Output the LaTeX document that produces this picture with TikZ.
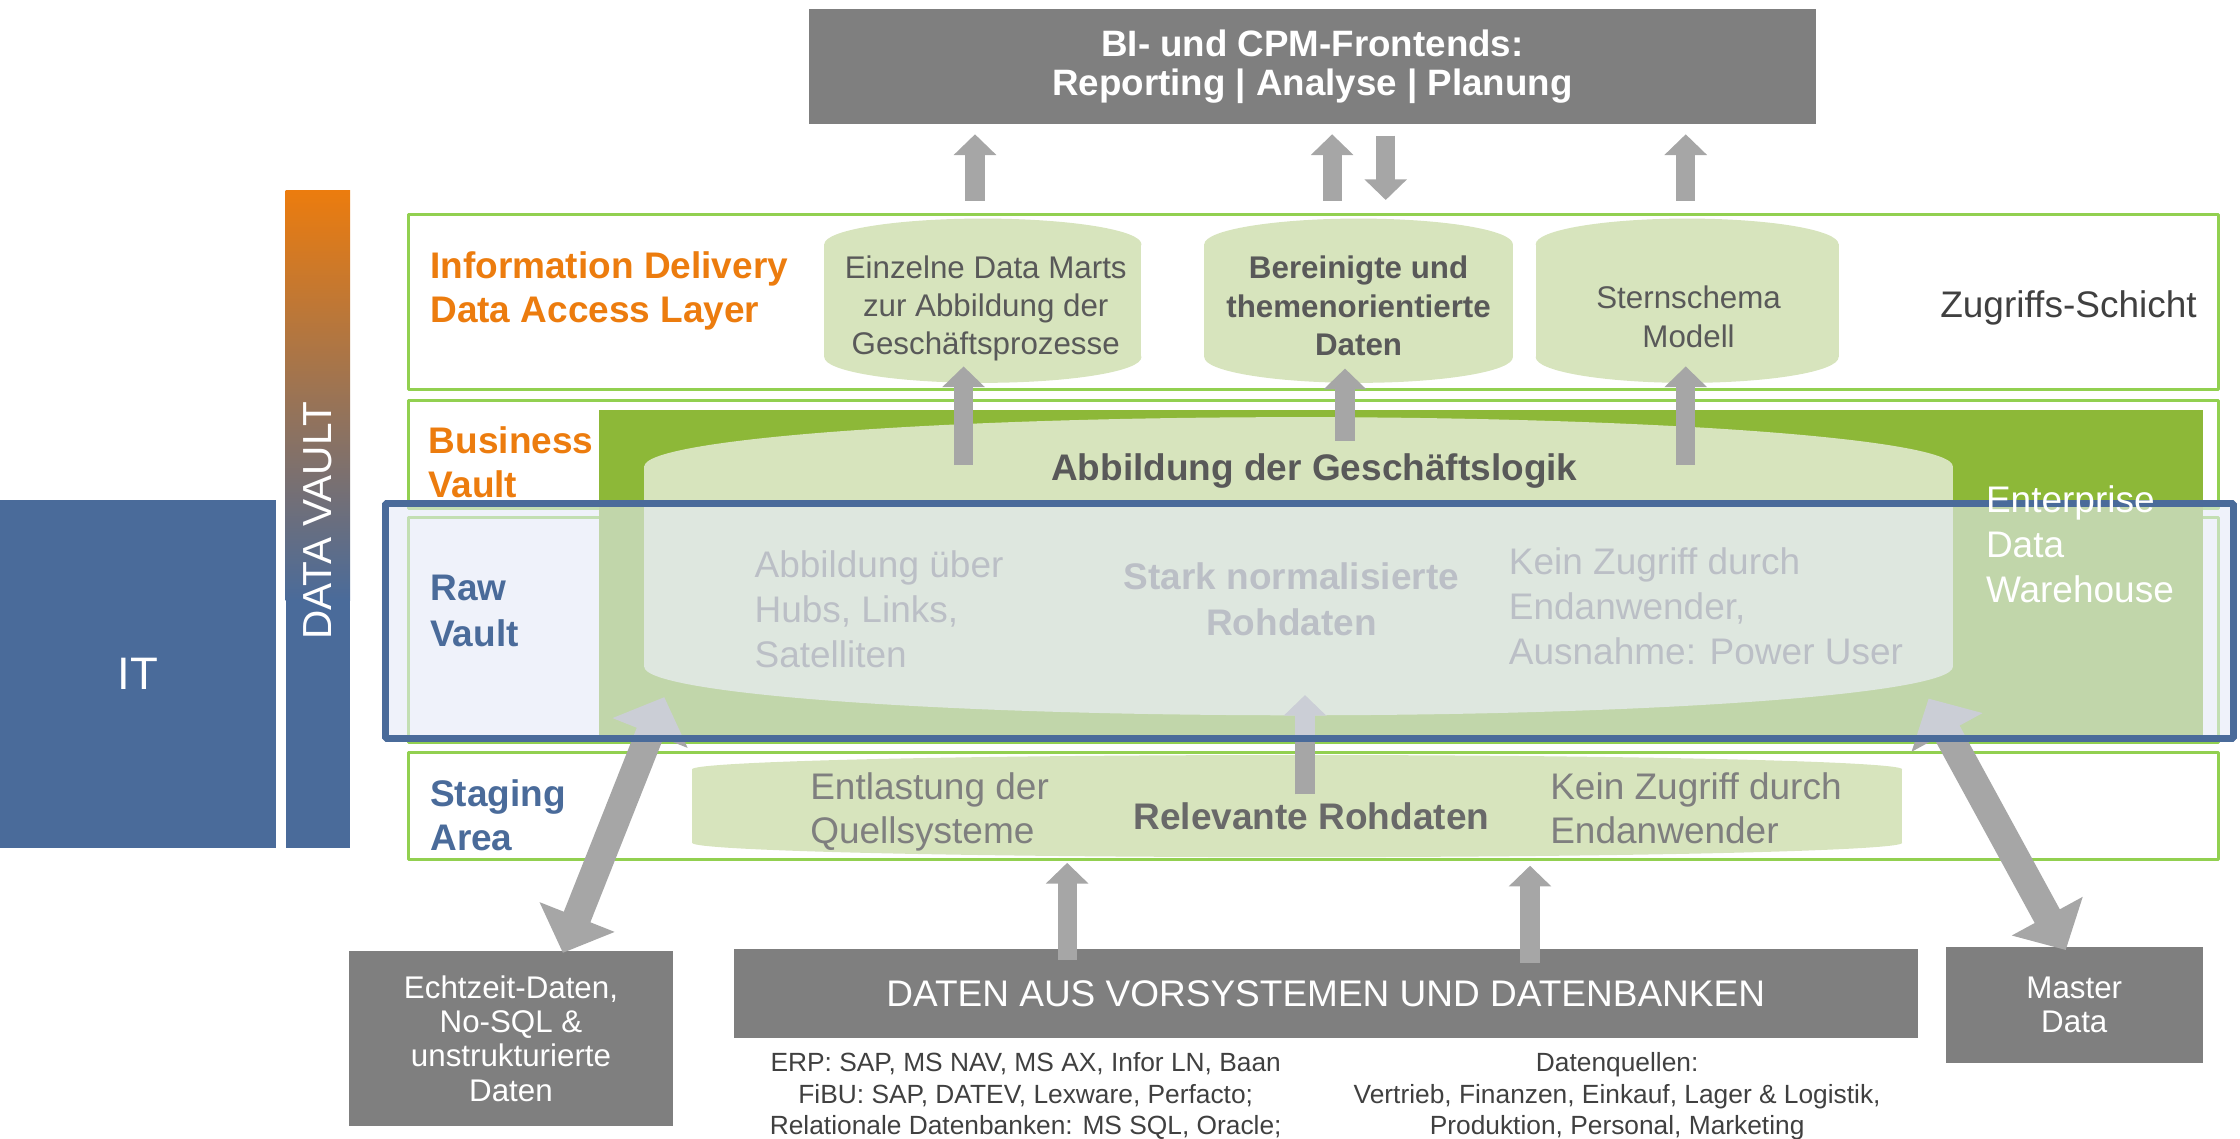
\documentclass[tikz,border=0pt]{standalone}
\usepackage{fontspec}
\setmainfont{Liberation Sans}
\usetikzlibrary{arrows.meta}
\definecolor{boxgray}{RGB}{127,127,127}
\definecolor{arrowgray}{RGB}{166,166,166}
\definecolor{cylgreen}{RGB}{215,228,189}
\definecolor{darkgreen}{RGB}{141,184,56}
\definecolor{linegreen}{RGB}{146,208,80}
\definecolor{vaultblue}{RGB}{74,107,154}
\definecolor{vaultorange}{RGB}{236,124,14}
\definecolor{rawfill}{RGB}{228,234,246}
\definecolor{textgray}{RGB}{89,89,89}
\definecolor{textmid}{RGB}{105,105,105}
\definecolor{textlight}{RGB}{127,127,127}
\definecolor{textdark}{RGB}{64,64,64}
\newcommand{\fsize}[2]{\fontsize{#1}{#2}\selectfont}
\begin{document}
\begin{tikzpicture}[>={Triangle[width=29bp,length=14.5bp]},line join=bevel,x=1bp,y=-1bp,
  txt/.style={inner sep=0pt},
  graybox/.style={inner sep=0pt,fill=boxgray,text=white},
  layer/.style={draw=linegreen,line width=2bp},
  arr/.style={draw=arrowgray,line width=13.5bp,->},
  bigarr/.style={draw=arrowgray,line width=20bp,arrows={Triangle[width=55bp,length=27bp]-Triangle[width=55bp,length=27bp]}},
]
%%
\useasboundingbox (0,0) rectangle (1568,797);
% IT and DATA VAULT
\fill [vaultblue] (0,350) rectangle (193,593.5);
\node (node_it) at (96.5,471.8) [txt,text=white,font=\fsize{32}{38}] {IT};
\shade [top color=vaultorange,bottom color=vaultblue] (200,133) rectangle (245,420);
\fill [vaultblue] (200,419.5) rectangle (245,593.5);
\node (node_dv) at (222.5,364.5) [txt,rotate=90,text=white,font=\fsize{28.5}{33}] {DATA VAULT};
% frontends
\node (node_bi) at (918.7,46.5) [graybox,minimum width=705.5bp,minimum height=81bp,align=center,font=\fsize{25.8}{27.5}\bfseries] {BI- und CPM-Frontends:\\Reporting | Analyse | Planung};
% Information Delivery
\draw [layer] (286,150) rectangle (1553,272.5);
\fill [cylgreen] (577,171) rectangle (799,250);
\fill [cylgreen] (688,171) ellipse [x radius=111bp,y radius=18bp];
\fill [cylgreen] (688,250) ellipse [x radius=111bp,y radius=18bp];
\fill [cylgreen] (843,171) rectangle (1059,250);
\fill [cylgreen] (951,171) ellipse [x radius=108bp,y radius=18bp];
\fill [cylgreen] (951,250) ellipse [x radius=108bp,y radius=18bp];
\fill [cylgreen] (1075,171) rectangle (1287,250);
\fill [cylgreen] (1181,171) ellipse [x radius=106bp,y radius=18bp];
\fill [cylgreen] (1181,250) ellipse [x radius=106bp,y radius=18bp];
\node (node_idl) at (301,176.3) [txt,anchor=north west,align=left,text=vaultorange,font=\fsize{26}{30.5}\bfseries] {Information Delivery\\Data Access Layer};
\node (node_marts) at (690,179.2) [txt,anchor=north,align=center,text=textgray,font=\fsize{22}{26.5}] {Einzelne Data Marts\\zur Abbildung der\\Geschäftsprozesse};
\node (node_themen) at (951,179.2) [txt,anchor=north,align=center,text=textgray,font=\fsize{22}{27}\bfseries] {Bereinigte und\\themenorientierte\\Daten};
\node (node_stern) at (1182,200.2) [txt,anchor=north,align=center,text=textgray,font=\fsize{22}{27}] {Sternschema\\Modell};
\node (node_zugriff) at (1358,222) [txt,anchor=base west,text=textdark,font=\fsize{26}{30}] {Zugriffs-Schicht};
% Business Vault, Raw Vault
\draw [layer] (286,280.5) rectangle (1553,356);
\draw [layer] (286,362) rectangle (1553,520);
\fill [darkgreen] (419,287) rectangle (1542,515);
\fill [cylgreen] (451,326.5) rectangle (1367,466.7);
\fill [cylgreen] (909,326.5) ellipse [x radius=458bp,y radius=34.5bp];
\fill [cylgreen] (909,466.7) ellipse [x radius=458bp,y radius=34bp];
\node (node_logik) at (920,336) [txt,anchor=base,text=textgray,font=\fsize{26}{30}\bfseries] {Abbildung der Geschäftslogik};
\node (node_hubs) at (528,385.3) [txt,anchor=north west,align=left,text=textlight,font=\fsize{26}{31.5}] {Abbildung über\\Hubs, Links,\\Satelliten};
\node (node_stark) at (904,393.8) [txt,anchor=north,align=center,text=textlight,font=\fsize{26}{32}\bfseries] {Stark normalisierte\\Rohdaten};
\node (node_kein) at (1056,383.3) [txt,anchor=north west,align=left,text=textlight,font=\fsize{26}{31.5}] {Kein Zugriff durch\\Endanwender,\\Ausnahme: Power User};
% Staging Area
\draw [layer] (286,527) rectangle (1553,601.5);
\fill [cylgreen] (484.5,538.5) rectangle (1331.5,590);
\fill [cylgreen] (908,538.5) ellipse [x radius=423.5bp,y radius=10bp];
\fill [cylgreen] (908,590) ellipse [x radius=423.5bp,y radius=10bp];
\node (node_entl) at (567,540.8) [txt,anchor=north west,align=left,text=textlight,font=\fsize{26}{30.5}] {Entlastung der\\Quellsysteme};
\node (node_relevant) at (918,580.5) [txt,anchor=base,text=textmid,font=\fsize{26}{30}\bfseries] {Relevante Rohdaten};
\node (node_kein_sa) at (1085,540.8) [txt,anchor=north west,align=left,text=textlight,font=\fsize{26}{30.5}] {Kein Zugriff durch\\Endanwender};
% sources
\node (node_echtzeit) at (357.7,727) [graybox,minimum width=226.5bp,minimum height=122bp,align=center,font=\fsize{22}{24.2}] {Echtzeit-Daten,\\No-SQL \&\\unstrukturierte\\Daten};
\node (node_daten) at (928,695.5) [graybox,minimum width=829bp,minimum height=62bp,font=\fsize{26}{31}] {DATEN AUS VORSYSTEMEN UND DATENBANKEN};
\node (node_master) at (1452,703.5) [graybox,minimum width=180bp,minimum height=81bp,align=center,font=\fsize{22}{24.3}] {Master\\Data};
\node (node_erp) at (718,736.7) [txt,anchor=north,align=center,text=textdark,font=\fsize{18.5}{22}] {ERP: SAP, MS NAV, MS AX, Infor LN, Baan\\FiBU: SAP, DATEV, Lexware, Perfacto;\\Relationale Datenbanken: MS SQL, Oracle;};
\node (node_quellen) at (1132,736.7) [txt,anchor=north,align=center,text=textdark,font=\fsize{18.5}{22}] {Datenquellen:\\Vertrieb, Finanzen, Einkauf, Lager \& Logistik,\\Produktion, Personal, Marketing};
% arrows
\coordinate (c_bi1) at (682.5,140.5);  \coordinate (c_bi1t) at (682.5,94);
\coordinate (c_bi2) at (932.5,140.5);  \coordinate (c_bi2t) at (932.5,94);
\coordinate (c_bi3) at (970,95);       \coordinate (c_bi3t) at (970,140);
\coordinate (c_bi4) at (1180,140.5);   \coordinate (c_bi4t) at (1180,94);
\coordinate (c_bv1) at (674.5,325.5);  \coordinate (c_bv1t) at (674.5,256.5);
\coordinate (c_bv2) at (941.5,308.5);  \coordinate (c_bv2t) at (941.5,258);
\coordinate (c_bv3) at (1180,325.5);   \coordinate (c_bv3t) at (1180,256.5);
\coordinate (c_sa) at (913.5,556);     \coordinate (c_sat) at (913.5,486.5);
\coordinate (c_src1) at (747,672);     \coordinate (c_src1t) at (747,604);
\coordinate (c_src2) at (1071,674);    \coordinate (c_src2t) at (1071,606);
\coordinate (c_rt_l) at (465,488);     \coordinate (c_rt_lb) at (394,667);
\coordinate (c_md_r) at (1350,489);    \coordinate (c_md_rb) at (1446,665);
\draw [arr] (c_bi1) -- (c_bi1t);
\draw [arr] (c_bi2) -- (c_bi2t);
\draw [arr] (c_bi3) -- (c_bi3t);
\draw [arr] (c_bi4) -- (c_bi4t);
\draw [arr] (c_bv1) -- (c_bv1t);
\draw [arr] (c_bv2) -- (c_bv2t);
\draw [arr] (c_bv3) -- (c_bv3t);
\draw [arr] (c_sa) -- (c_sat);
\draw [arr] (c_src1) -- (c_src1t);
\draw [arr] (c_src2) -- (c_src2t);
\draw [bigarr] (c_rt_l) -- (c_rt_lb);
\draw [bigarr] (c_md_r) -- (c_md_rb);
% Raw Vault frame
\draw [vaultblue,line width=5bp,fill=rawfill,fill opacity=0.6] (270,352.5) rectangle (1563.5,517);
\node (node_edw) at (1390,339.8) [txt,anchor=north west,align=left,text=white,font=\fsize{26}{31.5}] {Enterprise\\Data\\Warehouse};
\node (node_bvl) at (300,298.3) [txt,anchor=north west,align=left,text=vaultorange,font=\fsize{26}{31}\bfseries] {Business\\Vault};
\node (node_rvl) at (301,402.3) [txt,anchor=north west,align=left,text=vaultblue,font=\fsize{26}{32}\bfseries] {Raw\\Vault};
\node (node_sal) at (301,545.3) [txt,anchor=north west,align=left,text=vaultblue,font=\fsize{26}{31}\bfseries] {Staging\\Area};
%
\end{tikzpicture}
\end{document}
